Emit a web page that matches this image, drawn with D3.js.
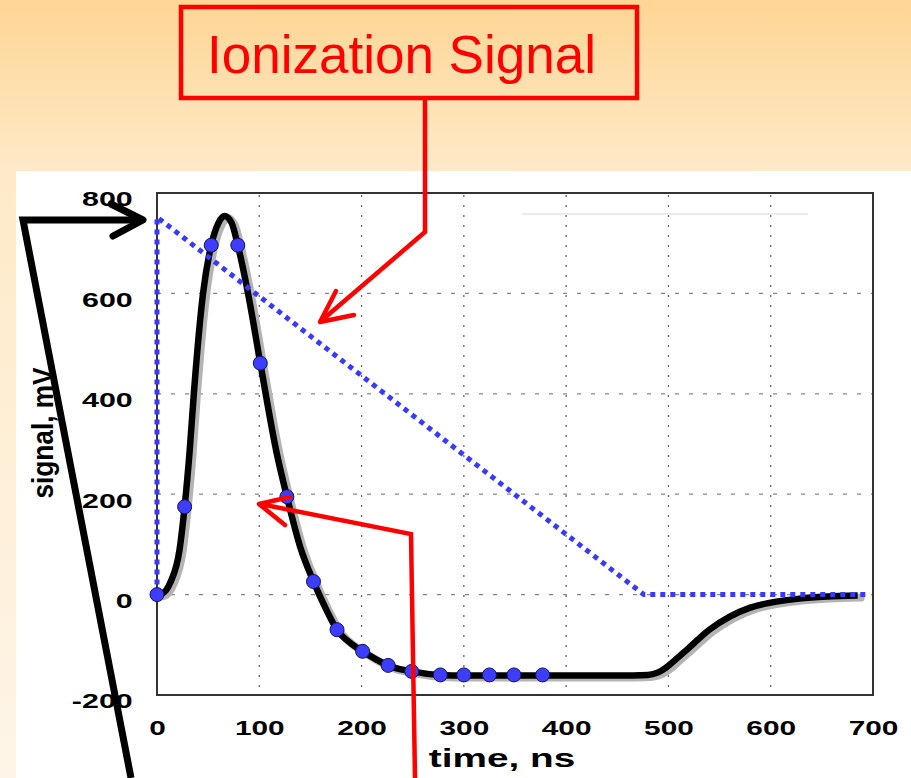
<!DOCTYPE html>
<html>
<head>
<meta charset="utf-8">
<script src="https://cdn.jsdelivr.net/npm/d3@7"></script>
<style>
  html, body { margin: 0; padding: 0; background: #fff; }
  svg { display: block; }
  text { font-family: "Liberation Sans", Arial, Helvetica, sans-serif; }
</style>
</head>
<body>
<figure id="chart" style="margin:0"></figure>
<script>
// signal trace (time in ns, signal in mV)
const signalTime = [0, 5, 13, 22, 27, 32, 36, 45, 53, 60, 66, 73, 79, 89, 101, 117, 127, 140, 153, 165, 176, 190, 201, 215, 226, 249, 277, 300, 350, 400, 450, 480, 490, 498, 505, 520, 540, 560, 580, 600, 628, 655, 685];
const signalValue = [0, 2, 24, 89, 175, 288, 400, 600, 696, 740, 754, 740, 696, 600, 461, 282, 195, 95, 26, -28, -70, -98, -113, -130, -141, -153, -160, -161, -161, -161, -161, -160, -155, -145, -133, -106, -70, -44, -26, -16, -8, -4, -2];

// sampled points (blue dots)
const sampleTime = [0, 27, 53, 79, 101, 127, 153, 176, 201, 226, 249, 277, 300, 325, 349, 377];
const sampleValue = [0, 175, 696, 696, 461, 195, 26, -70, -113, -141, -153, -160, -160, -160, -160, -160];

// triangular ionization signal (blue dotted)
const triangleTime = [0, 0, 476, 695];
const triangleValue = [0, 752, 0, 0];

const xTicks = [0, 100, 200, 300, 400, 500, 600, 700];
const yTicks = [-200, 0, 200, 400, 600, 800];
const xGrid = [100, 200, 300, 400, 500, 600];
const yGrid = [0, 200, 400, 600];

const width = 911, height = 778;
const plot = { left: 157, right: 873, top: 193, bottom: 695 };

const svg = d3.select("figure#chart")
  .append("svg")
  .attr("width", width)
  .attr("height", height);

// slide background
const defs = svg.append("defs");
const grad = defs.append("linearGradient")
  .attr("id", "bg").attr("x1", 0).attr("y1", 0).attr("x2", 0).attr("y2", 1);
grad.append("stop").attr("offset", "0").attr("stop-color", "#fed594");
grad.append("stop").attr("offset", "0.22").attr("stop-color", "#feeac8");
grad.append("stop").attr("offset", "1").attr("stop-color", "#fef5e8");

svg.append("rect").attr("width", width).attr("height", height).attr("fill", "url(#bg)");
svg.append("rect").attr("x", 16).attr("y", 171).attr("width", width - 16).attr("height", height - 171).attr("fill", "#fff");

const x = d3.scaleLinear().domain([0, 700]).range([plot.left, plot.right]);
const y = d3.scaleLinear().domain([-200, 800]).range([plot.bottom, plot.top]);

// grid
svg.append("g").selectAll("line")
  .data(xGrid).join("line")
  .attr("x1", d => x(d)).attr("x2", d => x(d))
  .attr("y1", plot.top + 2).attr("y2", plot.bottom)
  .attr("stroke", "#666").attr("stroke-width", 1.3)
  .attr("stroke-dasharray", "2,8");

svg.append("g").selectAll("line")
  .data(yGrid).join("line")
  .attr("x1", plot.left).attr("x2", plot.right)
  .attr("y1", d => y(d)).attr("y2", d => y(d))
  .attr("stroke", "#888").attr("stroke-width", 1.2)
  .attr("stroke-dasharray", "4,10");

// faint leftover line near the top
svg.append("line")
  .attr("x1", 522).attr("x2", 808).attr("y1", 214).attr("y2", 214)
  .attr("stroke", "#e4e4e4").attr("stroke-width", 1.5);

// frame
svg.append("rect")
  .attr("x", plot.left).attr("y", plot.top)
  .attr("width", plot.right - plot.left).attr("height", plot.bottom - plot.top)
  .attr("fill", "none").attr("stroke", "#333").attr("stroke-width", 2);

// axes (labels only, stretched like the pasted picture)
const xAxis = svg.append("g")
  .attr("transform", `translate(0,${plot.bottom})`)
  .call(d3.axisBottom(x).tickValues(xTicks).tickSize(0).tickPadding(25).tickFormat(d => String(d)));
xAxis.select(".domain").remove();
xAxis.selectAll("text")
  .attr("font-family", "Liberation Sans, Arial, sans-serif")
  .attr("font-size", 21).attr("font-weight", "bold").attr("fill", "#000")
  .attr("transform", "scale(1.42,1)");

const yAxis = svg.append("g")
  .attr("transform", `translate(${plot.left},0)`)
  .call(d3.axisLeft(y).tickValues(yTicks).tickSize(0).tickFormat(d => String(d)));
yAxis.select(".domain").remove();
yAxis.selectAll("text")
  .attr("font-family", "Liberation Sans, Arial, sans-serif")
  .attr("font-size", 20).attr("font-weight", "bold").attr("fill", "#000")
  .attr("x", -16).attr("dy", "0.64em")
  .attr("transform", "scale(1.52,1)");

svg.append("text")
  .attr("transform", "translate(502,767) scale(1.55,1)")
  .attr("text-anchor", "middle")
  .attr("font-size", 25).attr("font-weight", "bold")
  .text("time, ns");

svg.append("text")
  .attr("transform", "translate(53,433) rotate(-90)")
  .attr("text-anchor", "middle")
  .attr("font-size", 29).attr("font-weight", "bold")
  .attr("textLength", 131).attr("lengthAdjust", "spacingAndGlyphs")
  .text("signal, mV");

// signal curve with grey shadow
const signal = signalTime.map((t, i) => ({ t: t, v: signalValue[i] }));
const line = d3.line().x(d => x(d.t)).y(d => y(d.v)).curve(d3.curveMonotoneX);

svg.append("path")
  .datum(signal)
  .attr("d", line)
  .attr("transform", "translate(3,2)")
  .attr("fill", "none").attr("stroke", "#b4b4b4").attr("stroke-width", 8)
  .attr("stroke-linejoin", "round").attr("stroke-linecap", "round");

svg.append("path")
  .datum(signal)
  .attr("d", line)
  .attr("fill", "none").attr("stroke", "#000").attr("stroke-width", 6.5)
  .attr("stroke-linejoin", "round");

// triangle (dotted blue)
const triangle = triangleTime.map((t, i) => ({ t: t, v: triangleValue[i] }));
svg.append("path")
  .datum(triangle)
  .attr("d", d3.line().x(d => x(d.t)).y(d => y(d.v)))
  .attr("fill", "none").attr("stroke", "#3838ff").attr("stroke-width", 5)
  .attr("stroke-dasharray", "5,5");

// sample dots
svg.append("g").selectAll("circle")
  .data(sampleTime.map((t, i) => ({ t: t, v: sampleValue[i] })))
  .join("circle")
  .attr("cx", d => x(d.t)).attr("cy", d => y(d.v))
  .attr("r", 7)
  .attr("fill", "#3d3dff").attr("stroke", "#141450").attr("stroke-width", 1);

// annotation arrows
const red = "#ff0000";
svg.append("polyline")
  .attr("points", "425,98 425,232 321,321")
  .attr("fill", "none").attr("stroke", red).attr("stroke-width", 4.5);
svg.append("polyline")
  .attr("points", "336,291 320,322 354,315")
  .attr("fill", "none").attr("stroke", red).attr("stroke-width", 4.5)
  .attr("stroke-linecap", "round").attr("stroke-linejoin", "round");

svg.append("polyline")
  .attr("points", "415,778 411,534 260,504")
  .attr("fill", "none").attr("stroke", red).attr("stroke-width", 4.5);
svg.append("polyline")
  .attr("points", "290,497 259,504 285,525")
  .attr("fill", "none").attr("stroke", red).attr("stroke-width", 4.5)
  .attr("stroke-linecap", "round").attr("stroke-linejoin", "round");

svg.append("polyline")
  .attr("points", "131,778 23,220 143,220")
  .attr("fill", "none").attr("stroke", "#000").attr("stroke-width", 7)
  .attr("stroke-linejoin", "miter");
svg.append("polyline")
  .attr("points", "111,204 143,220 113,236")
  .attr("fill", "none").attr("stroke", "#000").attr("stroke-width", 7)
  .attr("stroke-linecap", "round").attr("stroke-linejoin", "round");

// title box
svg.append("rect")
  .attr("x", 181).attr("y", 7).attr("width", 456).attr("height", 91)
  .attr("fill", "none").attr("stroke", red).attr("stroke-width", 4.5);
svg.append("text")
  .attr("x", 207).attr("y", 73)
  .attr("font-size", 53).attr("fill", red)
  .text("Ionization Signal");
</script>
</body>
</html>
